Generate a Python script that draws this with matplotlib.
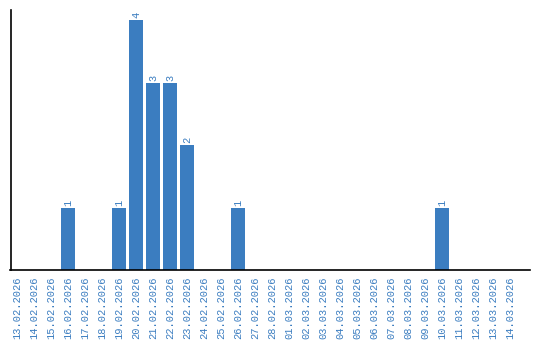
import numpy as np
import matplotlib
matplotlib.use("Agg")
import matplotlib.pyplot as plt

dates = ["13.02.2026", "14.02.2026", "15.02.2026", "16.02.2026", "17.02.2026",
         "18.02.2026", "19.02.2026", "20.02.2026", "21.02.2026", "22.02.2026",
         "23.02.2026", "24.02.2026", "25.02.2026", "26.02.2026", "27.02.2026",
         "28.02.2026", "01.03.2026", "02.03.2026", "03.03.2026", "04.03.2026",
         "05.03.2026", "06.03.2026", "07.03.2026", "08.03.2026", "09.03.2026",
         "10.03.2026", "11.03.2026", "12.03.2026", "13.03.2026", "14.03.2026"]
counts = [0, 0, 0, 1, 0, 0, 1, 4, 3, 3,
          2, 0, 0, 1, 0, 0, 0, 0, 0, 0,
          0, 0, 0, 0, 0, 1, 0, 0, 0, 0]

bar_color = "#3b7dc0"
text_color = "#3b7dc0"

fig = plt.figure(figsize=(5.4, 3.4), dpi=100)
ax = fig.add_axes([10.5 / 540, 70 / 340, (530 - 10.5) / 540, 260 / 340])

x = np.arange(len(dates))
ax.bar(x, counts, width=0.82, color=bar_color)

for xi, c in zip(x, counts):
    if c > 0:
        ax.text(xi, c + 0.03, str(c), rotation=90, ha="center", va="bottom",
                color=text_color, fontsize=7.5, family="Liberation Mono")

ax.set_xlim(-0.38, 30.18)
ax.set_ylim(0, 4.16)
ax.set_xticks(x)
ax.set_xticklabels(dates, rotation=90, color=text_color, fontsize=7.5,
                   family="Liberation Mono")
ax.tick_params(axis="x", length=0, pad=5)
ax.set_yticks([])

for side in ["top", "right"]:
    ax.spines[side].set_visible(False)
ax.spines["left"].set_color("black")
ax.spines["bottom"].set_color("black")
ax.spines["left"].set_linewidth(1.2)
ax.spines["bottom"].set_linewidth(1.2)

fig.savefig("out.png", dpi=100)
